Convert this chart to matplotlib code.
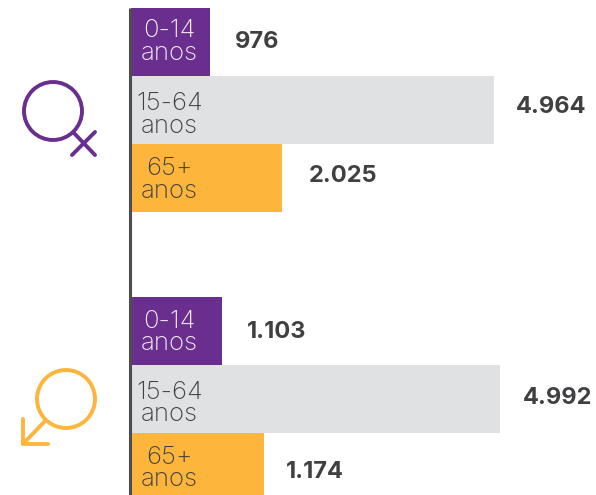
import numpy as np
from matplotlib import pyplot as plt
from matplotlib.patches import Circle

# lengths as drawn in the picture, they are not to scale with the printed values
female_lengths = [79, 363, 151]
male_lengths = [91, 369, 133]
female_labels = ['976', '4.964', '2.025']
male_labels = ['1.103', '4.992', '1.174']
age_groups = ['0-14\nanos', '15-64\nanos', '65+\nanos']

PURPLE = '#6a2f8e'
GREY = '#e0e1e3'
ORANGE = '#fdb53c'
DARK = '#404042'
colors = [PURPLE, GREY, ORANGE]
text_colors = ['#f4eff7', DARK, DARK]

plt.rcParams['font.family'] = ['Inter', 'DejaVu Sans']

fig = plt.figure(figsize=(5.96, 4.95), dpi=100)
ax = fig.add_axes([0, 0, 1, 1])
ax.set_xlim(0, 596)
ax.set_ylim(495, 0)
ax.axis('off')

def drawGroup(lengths, labels, y0, gaps, age_dy, value_dy):
    ys = y0 + 34 + 68 * np.arange(3)
    ax.barh(ys, lengths, height=68, left=131, color=colors, linewidth=0)
    for y, age, tc, dy in zip(ys, age_groups, text_colors, age_dy):
        ax.text(169.5, y + dy, age, color=tc, fontsize=18.5, fontweight='light',
                ha='center', va='center', linespacing=0.95)
    for y, length, label, gap, dy in zip(ys, lengths, labels, gaps, value_dy):
        ax.text(131 + length + gap, y + dy, label, color=DARK, fontsize=17,
                fontweight='bold', ha='left', va='center')

drawGroup(female_lengths, female_labels, 8, [25, 22, 27], [0, 5, 2], [0, -3, -2])
drawGroup(male_lengths, male_labels, 296.5, [25, 23, 22], [2, 5, 2], [1, -1, 5])

# axis line
ax.plot([129.5, 129.5], [8, 495], color='#4d4d4f', lw=2.2, solid_capstyle='butt')

# female symbol
ax.add_patch(Circle((53, 111), 29, fill=False, ec=PURPLE, lw=2.8))
ax.plot([73, 95], [132, 155], color=PURPLE, lw=2.8, solid_capstyle='round')
ax.plot([95, 72], [132, 155], color=PURPLE, lw=2.8, solid_capstyle='round')

# male symbol
ax.add_patch(Circle((66, 399), 29, fill=False, ec=ORANGE, lw=2.8))
ax.plot([45, 23], [421, 444], color=ORANGE, lw=2.8, solid_capstyle='round')
ax.plot([23, 23, 48], [419, 444, 444], color=ORANGE, lw=2.8,
        solid_capstyle='round', solid_joinstyle='round')

fig.savefig('out.png', dpi=100)
